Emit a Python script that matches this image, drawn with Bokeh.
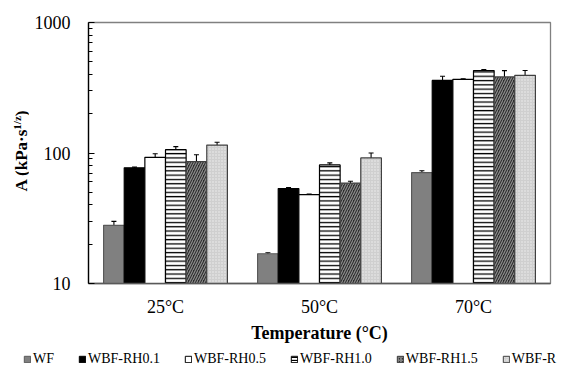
from bokeh.plotting import figure
from bokeh.layouts import row, column
from bokeh.models import (ColumnDataSource, Whisker, TeeHead, Legend, LegendItem,
                          FixedTicker, Range1d, Div)
from bokeh.embed import file_html
from bokeh.resources import INLINE

categories = ["25°C", "50°C", "70°C"]
series = ["WF", "WBF-RH0.1", "WBF-RH0.5", "WBF-RH1.0", "WBF-RH1.5", "WBF-R"]

wf = [27.9, 16.9, 70.7]
rh01 = [77.0, 53.4, 360.0]
rh05 = [92.7, 48.0, 367.0]
rh10 = [106.0, 81.0, 428.0]
rh15 = [86.0, 58.7, 383.0]
rhx = [115.0, 91.6, 394.0]

wf_err = [2.0, 0.3, 2.5]
rh01_err = [1.0, 1.0, 27.0]
rh05_err = [6.0, 0.5, 4.0]
rh10_err = [6.0, 3.0, 8.0]
rh15_err = [11.0, 2.0, 45.0]
rhx_err = [6.0, 8.5, 35.0]

values = [wf, rh01, rh05, rh10, rh15, rhx]
errors = [wf_err, rh01_err, rh05_err, rh10_err, rh15_err, rhx_err]

styles = [
    dict(fill_color="#808080", line_color="#595959", hatch_pattern=None),
    dict(fill_color="#000000", line_color="#000000", hatch_pattern=None),
    dict(fill_color="#ffffff", line_color="#000000", hatch_pattern=None),
    dict(fill_color="#ffffff", line_color="#000000", hatch_pattern="horizontal_line",
         hatch_color="#000000", hatch_scale=4.3, hatch_weight=1.3),
    dict(fill_color="#2e2e2e", line_color="#404040", hatch_pattern="right_diagonal_line",
         hatch_color="#8c8c8c", hatch_scale=5, hatch_weight=1.2),
    dict(fill_color="#cfcfcf", line_color="#404040", hatch_pattern="dot",
         hatch_color="#f0f0f0", hatch_scale=3, hatch_weight=1),
]

FONT = "Liberation Serif"
bar_w = 0.134
n = len(series)
LW = 28     # width of the y-title strip
LEG_H = 22  # height of the legend strip
MAIN_H = 367 - LEG_H

p = figure(width=569 - LW, height=MAIN_H, y_axis_type="log",
           x_range=Range1d(0, 3), y_range=Range1d(10, 1000),
           output_backend="svg", toolbar_location=None,
           min_border_left=88 - LW, min_border_right=19, min_border_top=22,
           min_border_bottom=MAIN_H - 284)

p.xgrid.visible = False
p.ygrid.visible = False
p.outline_line_color = "#808080"
p.outline_line_width = 1.3
p.background_fill_color = "white"

# legend strip (its own small plot so the legend is not clipped);
# its y range lies above all bars, so only the legend shows
lf = figure(width=569, height=LEG_H, x_range=Range1d(0, 3), y_range=Range1d(5000, 6000),
            output_backend="svg", toolbar_location=None, min_border=0,
            x_axis_location=None, y_axis_location=None)
lf.outline_line_color = None
lf.xgrid.visible = False
lf.ygrid.visible = False

items = []
for i, (name, vals, errs, st) in enumerate(zip(series, values, errors, styles)):
    xs = [c + 0.5 + (i - (n - 1) / 2) * bar_w for c in range(len(categories))]
    src = ColumnDataSource(dict(x=xs, top=vals,
                                upper=[v + e for v, e in zip(vals, errs)],
                                lower=[v - e for v, e in zip(vals, errs)]))
    kw = dict(fill_color=st["fill_color"], line_color=st["line_color"], line_width=1.2)
    if st["hatch_pattern"]:
        kw.update(hatch_pattern=st["hatch_pattern"], hatch_color=st["hatch_color"],
                  hatch_scale=st["hatch_scale"], hatch_weight=st["hatch_weight"])
    p.vbar(x="x", top="top", bottom=10, width=bar_w, source=src, **kw)
    wk = Whisker(base="x", upper="upper", lower="lower", source=src,
                 line_color="black", line_width=1.1,
                 upper_head=TeeHead(size=5, line_color="black", line_width=1.1),
                 lower_head=TeeHead(size=5, line_color="black", line_width=1.1))
    p.add_layout(wk)
    lkw = dict(kw)
    lkw["line_width"] = 1
    if st["hatch_pattern"]:
        lkw["hatch_scale"] = min(st["hatch_scale"], 3)
    lr = lf.vbar(x="x", top="top", bottom=10, width=bar_w, source=src, **lkw)
    items.append(LegendItem(label=name, renderers=[lr]))

# y axis
p.yaxis.ticker = FixedTicker(ticks=[10, 100, 1000],
                             minor_ticks=[20, 30, 40, 50, 60, 70, 80, 90,
                                          200, 300, 400, 500, 600, 700, 800, 900])
p.yaxis.major_label_overrides = {10: "10", 100: "100", 1000: "1000"}
p.yaxis.major_tick_in = 6
p.yaxis.major_tick_out = 0
p.yaxis.minor_tick_in = 4
p.yaxis.minor_tick_out = 0
p.yaxis.major_label_standoff = 18
p.yaxis.major_label_text_font = FONT
p.yaxis.major_label_text_font_size = "18px"
p.yaxis.major_label_text_color = "black"
p.yaxis.axis_line_color = "black"
p.yaxis.axis_line_width = 1.3

# x axis
p.xaxis.ticker = FixedTicker(ticks=[0.5, 1.5, 2.5])
p.xaxis.major_label_overrides = {0.5: categories[0], 1.5: categories[1], 2.5: categories[2]}
p.xaxis.major_tick_line_color = None
p.xaxis.minor_tick_line_color = None
p.xaxis.major_tick_out = 0
p.xaxis.major_tick_in = 0
p.xaxis.major_label_standoff = 13
p.xaxis.major_label_text_font = FONT
p.xaxis.major_label_text_font_size = "18px"
p.xaxis.major_label_text_color = "black"
p.xaxis.axis_line_color = "#595959"
p.xaxis.axis_line_width = 1.3
p.xaxis.axis_label = "Temperature (°C)"
p.xaxis.axis_label_text_font = FONT
p.xaxis.axis_label_text_font_size = "18px"
p.xaxis.axis_label_text_font_style = "bold"
p.xaxis.axis_label_text_color = "black"
p.xaxis.axis_label_standoff = 3

legend = Legend(items=items, orientation="horizontal", location=(23, 0),
                glyph_width=8, glyph_height=8, label_standoff=2, spacing=24,
                label_height=14, padding=0, margin=0,
                border_line_color=None, background_fill_alpha=0,
                label_text_font=FONT, label_text_font_size="14px",
                label_text_color="black")
lf.add_layout(legend, "center")

ytitle = Div(width=LW, height=MAIN_H, margin=(0, 0, 0, 0), text=(
    '<div style="position:relative;width:%dpx;height:%dpx;">'
    '<div style="position:absolute;left:21px;top:151px;'
    'transform:translate(-50%%,-50%%) rotate(-90deg);white-space:nowrap;'
    "font-family:'Liberation Serif';font-weight:bold;font-size:17px;line-height:1;color:black;\">"
    'A (kPa·s<sup style="font-size:11px;">1/z</sup>)</div></div>' % (LW, MAIN_H)))

layout = column(row(ytitle, p, spacing=0), lf, spacing=0)
open("out.html", "w").write(file_html(layout, INLINE))
